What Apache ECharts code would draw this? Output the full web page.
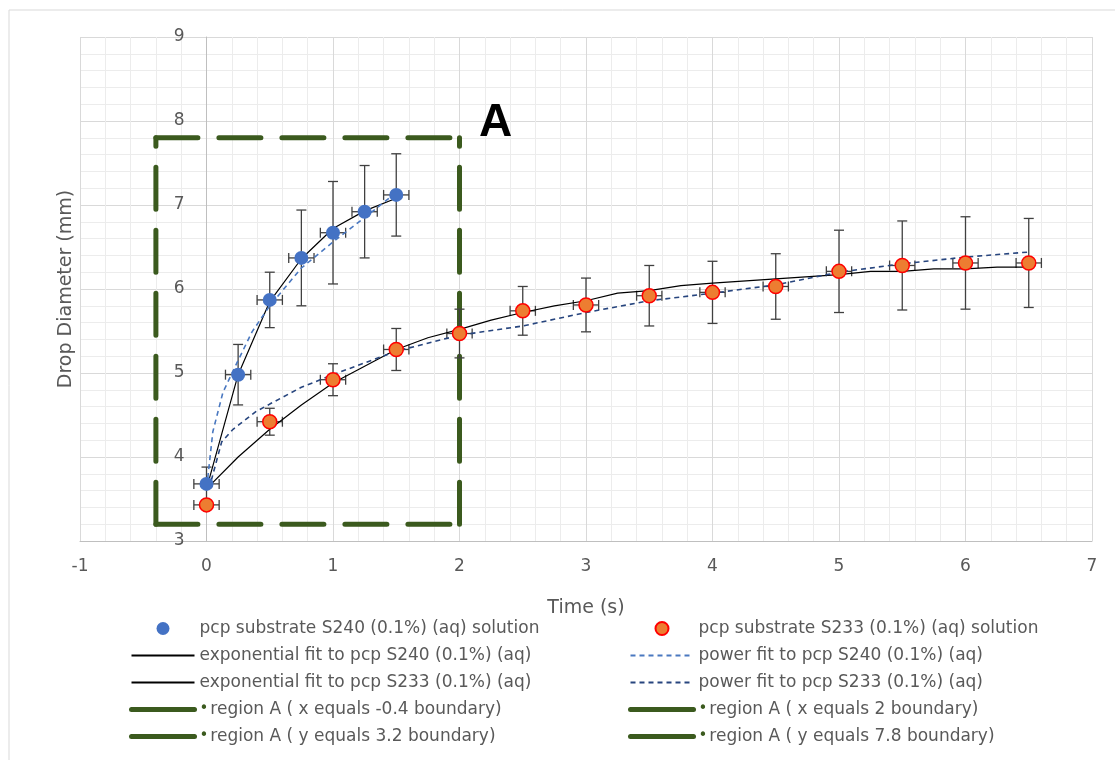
<!DOCTYPE html>
<html>
<head>
    <meta charset="utf-8">
    <title>Drop diameter vs time</title>
    <script src="https://cdn.jsdelivr.net/npm/echarts@6/dist/echarts.min.js"></script>
    <style>
        html, body { margin: 0; padding: 0; background: #fff; }
        #main { width: 1115px; height: 760px; }
    </style>
</head>
<body>
    <div id="main"></div>
    <script>
        // measured points: pcp substrate S240
        const s240X = [0, 0.25, 0.5, 0.75, 1, 1.25, 1.5];
        const s240Y = [3.68, 4.98, 5.87, 6.37, 6.67, 6.92, 7.12];
        const s240YErr = [0.2, 0.36, 0.33, 0.57, 0.61, 0.55, 0.49];
        const s240XErr = [0.1, 0.1, 0.1, 0.1, 0.1, 0.1, 0.1];

        // measured points: pcp substrate S233
        const s233X = [0, 0.5, 1, 1.5, 2, 2.5, 3, 3.5, 4, 4.5, 5, 5.5, 6, 6.5];
        const s233Y = [3.43, 4.42, 4.92, 5.28, 5.47, 5.74, 5.81, 5.92, 5.96, 6.03, 6.21, 6.28, 6.31, 6.31];
        const s233YErr = [0.05, 0.16, 0.19, 0.25, 0.29, 0.29, 0.32, 0.36, 0.37, 0.39, 0.49, 0.53, 0.55, 0.53];
        const s233XErr = [0.1, 0.1, 0.1, 0.1, 0.1, 0.1, 0.1, 0.1, 0.1, 0.1, 0.1, 0.1, 0.1, 0.1];

        // fitted curves
        const expS240X = [0, 0.25, 0.5, 0.75, 1, 1.25, 1.5];
        const expS240Y = [3.62, 4.98, 5.85, 6.36, 6.72, 6.93, 7.08];
        const powS240X = [0.01, 0.05, 0.13, 0.25, 0.36, 0.5, 0.75, 1, 1.25, 1.5];
        const powS240Y = [3.75, 4.3, 4.77, 5.15, 5.49, 5.8, 6.25, 6.56, 6.85, 7.15];
        const expS233X = [0, 0.25, 0.5, 0.75, 1, 1.25, 1.5, 1.75, 2, 2.25, 2.5, 2.75, 3, 3.25, 3.5, 3.75, 4, 4.5, 5, 5.25, 5.5, 5.75, 6, 6.25, 6.5];
        const expS233Y = [3.62, 4.0, 4.33, 4.62, 4.88, 5.08, 5.28, 5.42, 5.52, 5.63, 5.72, 5.8, 5.86, 5.95, 5.98, 6.04, 6.07, 6.12, 6.17, 6.21, 6.21, 6.24, 6.24, 6.26, 6.26];
        const powS233X = [0.02, 0.12, 0.21, 0.39, 0.5, 0.75, 1, 1.5, 2, 2.5, 3, 3.5, 4, 4.5, 5, 5.5, 6, 6.5];
        const powS233Y = [3.62, 4.18, 4.33, 4.54, 4.63, 4.83, 4.98, 5.26, 5.45, 5.56, 5.72, 5.86, 5.95, 6.05, 6.2, 6.3, 6.38, 6.44];

        // region A boundary
        const regionX = [-0.4, 2];
        const regionY = [3.2, 7.8];

        const xTicks = [-1, 0, 1, 2, 3, 4, 5, 6, 7];
        const yTicks = [3, 4, 5, 6, 7, 8, 9];

        const names = {
            s240: 'pcp substrate S240 (0.1%) (aq) solution',
            s233: 'pcp substrate S233 (0.1%) (aq) solution',
            exp240: 'exponential fit to pcp S240 (0.1%) (aq)',
            pow240: 'power fit to pcp S240 (0.1%) (aq)',
            exp233: 'exponential fit to pcp S233 (0.1%) (aq)',
            pow233: 'power fit to pcp S233 (0.1%) (aq)',
            rxl: 'region A ( x equals -0.4 boundary)',
            rxr: 'region A ( x equals 2 boundary)',
            ryb: 'region A ( y equals 3.2 boundary)',
            ryt: 'region A ( y equals 7.8 boundary)'
        };

        const FONT = 'DejaVu Sans';
        const GREEN = '#3b5a1e';
        const GRID = { left: 80, right: 23, top: 37, bottom: 219 };
        const xMin = xTicks[0], xMax = xTicks[xTicks.length - 1];
        // the value axis crosses at x = 0, like the Excel original
        const plotW = 1115 - GRID.left - GRID.right;
        const yAxisShift = (0 - xMin) / (xMax - xMin) * plotW;

        const zip = (xs, ys) => xs.map((x, i) => [x, ys[i]]);
        const withErr = (xs, ys, xe, ye) => xs.map((x, i) => [x, ys[i], xe[i], ye[i]]);

        function errorBars(api) {
            const x = api.value(0), y = api.value(1);
            const xe = api.value(2), ye = api.value(3);
            const top = api.coord([x, y + ye]);
            const bot = api.coord([x, y - ye]);
            const lft = api.coord([x - xe, y]);
            const rgt = api.coord([x + xe, y]);
            const c = 5;
            const style = { stroke: '#404040', lineWidth: 1.3 };
            const seg = (x1, y1, x2, y2) => ({ type: 'line', shape: { x1, y1, x2, y2 }, style });
            return {
                type: 'group',
                children: [
                    seg(top[0], top[1], bot[0], bot[1]),
                    seg(top[0] - c, top[1], top[0] + c, top[1]),
                    seg(bot[0] - c, bot[1], bot[0] + c, bot[1]),
                    seg(lft[0], lft[1], rgt[0], rgt[1]),
                    seg(lft[0], lft[1] - c, lft[0], lft[1] + c),
                    seg(rgt[0], rgt[1] - c, rgt[0], rgt[1] + c)
                ]
            };
        }

        const regionLine = (name, data) => ({
            name, type: 'line', data, symbol: 'none', z: 1,
            lineStyle: { color: GREEN, width: 5, type: [42, 21], cap: 'round' },
            itemStyle: { color: GREEN }
        });

        const fitLine = (name, data, color, dashed) => ({
            name, type: 'line', data, symbol: 'none', z: 3,
            lineStyle: { color, width: dashed ? 1.6 : 1.2, type: dashed ? [5, 4] : 'solid' },
            itemStyle: { color }
        });

        const legendText = {
            fontFamily: FONT, fontSize: 17, lineHeight: 15, color: '#595959',
            rich: { dot: { color: GREEN, fontSize: 15, lineHeight: 15, fontFamily: FONT, padding: [0, 2, 0, 0] } }
        };
        const lineItem = name => ({ name, itemStyle: { opacity: 0 } });
        const regionItem = name => ({ name, itemStyle: { opacity: 0 }, lineStyle: { type: 'solid', width: 5 } });
        const legendCommon = {
            orient: 'vertical', top: 615, itemWidth: 63, itemHeight: 13, itemGap: 10,
            textStyle: legendText, selectedMode: false,
            formatter: n => n.startsWith('region') ? '{dot|•}' + n : n
        };

        const chart = echarts.init(document.getElementById('main'));
        chart.setOption({
            animation: false,
            backgroundColor: '#fff',
            textStyle: { fontFamily: FONT },
            graphic: [
                { type: 'rect', shape: { x: 9, y: 10, width: 1130, height: 780 }, style: { fill: 'none', stroke: '#d9d9d9', lineWidth: 1 }, z: -10 },
                { type: 'text', left: 479, top: 100, style: { text: 'A', font: 'bold 46px "Liberation Sans"', fill: '#000' }, z: 10 }
            ],
            grid: Object.assign({ outerBoundsMode: 'none', containLabel: false }, GRID),
            legend: [
                Object.assign({}, legendCommon, {
                    left: 124,
                    data: [
                        { name: names.s240, icon: 'circle' },
                        lineItem(names.exp240), lineItem(names.exp233),
                        regionItem(names.rxl), regionItem(names.ryb)
                    ]
                }),
                Object.assign({}, legendCommon, {
                    left: 623,
                    data: [
                        { name: names.s233, icon: 'circle' },
                        lineItem(names.pow240), lineItem(names.pow233),
                        regionItem(names.rxr), regionItem(names.ryt)
                    ]
                })
            ],
            xAxis: {
                type: 'value', min: xMin, max: xMax, interval: 1,
                name: 'Time (s)', nameLocation: 'middle', nameGap: 58,
                nameTextStyle: { fontFamily: FONT, fontSize: 19, color: '#595959' },
                axisLine: { onZero: false, lineStyle: { color: '#bfbfbf' } },
                axisTick: { show: false },
                axisLabel: { fontFamily: FONT, fontSize: 17, color: '#595959', margin: 17 },
                splitLine: { show: true, lineStyle: { color: '#d9d9d9' } },
                minorTick: { show: false, splitNumber: 5 },
                minorSplitLine: { show: true, lineStyle: { color: '#ececec' } }
            },
            yAxis: {
                type: 'value', min: yTicks[0], max: yTicks[yTicks.length - 1], interval: 1,
                offset: -yAxisShift,
                name: 'Drop Diameter (mm)', nameLocation: 'middle', nameGap: 131, nameRotate: 90,
                nameTextStyle: { fontFamily: FONT, fontSize: 19, color: '#595959' },
                axisLine: { show: true, onZero: false, lineStyle: { color: '#bfbfbf' } },
                axisTick: { show: false },
                axisLabel: { fontFamily: FONT, fontSize: 17, color: '#595959', margin: 22 },
                splitLine: { show: true, lineStyle: { color: '#d9d9d9' } },
                minorTick: { show: false, splitNumber: 5 },
                minorSplitLine: { show: true, lineStyle: { color: '#ececec' } }
            },
            series: [
                regionLine(names.rxl, [[regionX[0], regionY[0]], [regionX[0], regionY[1]]]),
                regionLine(names.rxr, [[regionX[1], regionY[0]], [regionX[1], regionY[1]]]),
                regionLine(names.ryb, [[regionX[0], regionY[0]], [regionX[1], regionY[0]]]),
                regionLine(names.ryt, [[regionX[0], regionY[1]], [regionX[1], regionY[1]]]),
                {
                    type: 'custom', name: 'errS240', renderItem: (p, api) => errorBars(api),
                    data: withErr(s240X, s240Y, s240XErr, s240YErr), z: 2
                },
                {
                    type: 'custom', name: 'errS233', renderItem: (p, api) => errorBars(api),
                    data: withErr(s233X, s233Y, s233XErr, s233YErr), z: 2
                },
                fitLine(names.exp240, zip(expS240X, expS240Y), '#000000', false),
                fitLine(names.exp233, zip(expS233X, expS233Y), '#000000', false),
                fitLine(names.pow240, zip(powS240X, powS240Y), '#4a78c0', true),
                fitLine(names.pow233, zip(powS233X, powS233Y), '#27457e', true),
                {
                    name: names.s240, type: 'scatter', data: zip(s240X, s240Y), z: 5,
                    symbolSize: 14, itemStyle: { color: '#4472c4', opacity: 1 }
                },
                {
                    name: names.s233, type: 'scatter', data: zip(s233X, s233Y), z: 5,
                    symbolSize: 14, itemStyle: { color: '#ed7d31', borderColor: '#ff0000', borderWidth: 1.5, opacity: 1 }
                }
            ]
        });
    </script>
</body>
</html>
